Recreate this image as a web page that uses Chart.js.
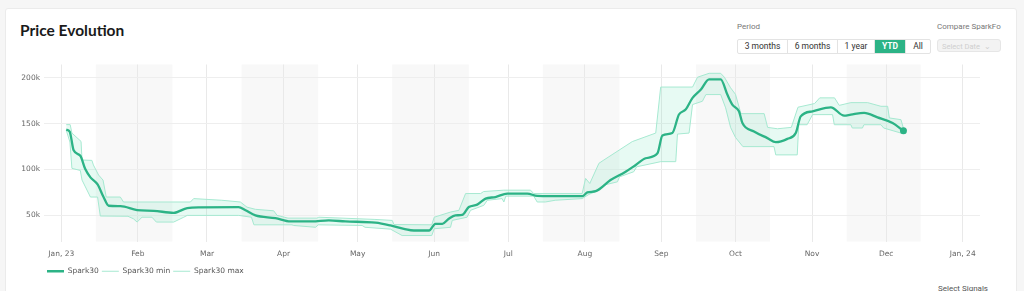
<!DOCTYPE html>
<html>
<head>
<meta charset="utf-8">
<script src="https://cdn.jsdelivr.net/npm/chart.js@4.4.1/dist/chart.umd.min.js"></script>
<style>
  body { margin: 0; width: 1024px; height: 291px; overflow: hidden; background: #f6f6f6; font-family: 'Roboto', sans-serif; }
  .card { position: absolute; left: 5px; top: 8px; width: 1010px; height: 300px; background: #fff; border: 1px solid #ebebeb; border-radius: 3px; }
  .title { position: absolute; left: 20px; top: 21px; font: 700 15.5px 'Lato', sans-serif; color: #1a1a1a; }
  .lbl { position: absolute; top: 22px; font-size: 8px; color: #777; }
  .period { position: absolute; left: 737px; top: 39px; height: 13px; display: flex; border: 1px solid #e3e3e3; border-radius: 2px; }
  .period span { font-size: 8.5px; color: #333; line-height: 13px; border-right: 1px solid #e3e3e3; text-align: center; }
  .period span:last-child { border-right: none; }
  .period .on { background: #2cb386; color: #fff; font-weight: 700; }
  .date { position: absolute; left: 937px; top: 39px; width: 64px; height: 13px; background: #f3f3f3; border: 1px solid #e6e6e6; border-radius: 3px; font-size: 7.5px; line-height: 13px; color: #cfcfcf; padding-left: 4px; box-sizing: border-box; }
  .signals { position: absolute; left: 938px; top: 284px; font-size: 8px; color: #555; }
  .wrap { position: absolute; left: 0; top: 56px; width: 1000px; height: 235px; }
</style>
</head>
<body>
<div class="card"></div>
<div class="title">Price Evolution</div>
<div class="lbl" style="left:737px">Period</div>
<div class="period">
  <span style="width:49px">3 months</span>
  <span style="width:49px">6 months</span>
  <span style="width:36px">1 year</span>
  <span class="on" style="width:30px">YTD</span>
  <span style="width:24px">All</span>
</div>
<div class="lbl" style="left:937px">Compare SparkFo</div>
<div class="date">Select Date &nbsp;&#8964;</div>
<div class="signals">Select Signals</div>
<div class="wrap"><canvas id="priceChart"></canvas></div>

<script>
// x values are days since Jan 1 2023, y values are in thousands
const monthDays = [0, 31, 59, 90, 120, 151, 181, 212, 243, 273, 304, 334, 365];
const monthLabels = ['Jan, 23', 'Feb', 'Mar', 'Apr', 'May', 'Jun', 'Jul', 'Aug', 'Sep', 'Oct', 'Nov', 'Dec', 'Jan, 24'];
const yTickValues = [50, 100, 150, 200];
const shadeRanges = [[14, 45], [73, 104], [134, 165], [195, 226], [257, 287], [318, 348]];

const sparkDays = [
    2, 3.4, 5, 7.7, 9.7, 11.8, 14.7, 17.1, 19.2, 24,
    30.7, 37.4, 45.5, 51, 56.3, 71.8, 74.6, 78.6, 86.7, 92.8,
    101.5, 108.3, 115, 127.2, 133.3, 138.7, 142.8, 148.9, 151.5, 154.3,
    156.9, 159.6, 162.3, 165, 168.4, 171.8, 175.8, 180.6, 188.7, 192.7,
    198, 211, 213, 216.4, 222.4, 228.5, 232.6, 236.6, 241.4, 243.4,
    247.4, 250.1, 252.8, 255.6, 259, 262.3, 267, 269.7, 271.7, 274.4,
    275.8, 280.5, 285.9, 289.3, 294, 297.4, 299.4, 304.2, 311.6, 317,
    319.7, 325.1, 330.5, 336.6, 341
];
const sparkValues = [
    143.5, 141.5, 121, 115, 100.5, 91.5, 83.7, 70, 60.5, 60,
    55.8, 55, 52.8, 58, 58.8, 59, 55.5, 50, 47, 43.4,
    43.4, 44.5, 43.4, 42, 39, 35.4, 33.5, 33.5, 40.8, 40.8,
    46.3, 50, 50.5, 59.1, 61.7, 68.3, 70, 73.8, 73.8, 71.2,
    71, 71, 75, 76.4, 88.5, 97.6, 105, 112.3, 117.8, 137.2,
    139.8, 160, 165.4, 178.2, 187.4, 198.4, 198.4, 181.8, 170.9, 163.5,
    150.8, 141.5, 134.3, 129.9, 133.5, 139.8, 158, 163.5, 167.9, 158.8,
    159.9, 161.8, 156.9, 150.8, 142.3
];

const minDays = [
    2, 3.5, 4.3, 7.7, 8.4, 11.8, 14.7, 15.8, 27, 29.2,
    30.7, 32.7, 36.7, 38.5, 45.5, 49.6, 51, 71.8, 77, 78,
    93.4, 94, 103, 104, 121.8, 123, 133.3, 138, 150, 151,
    157.6, 158.3, 164.3, 165.7, 171.1, 172.5, 178.5, 179.2, 180, 191.3,
    192.7, 196, 200, 210.9, 213.6, 217.7, 219.7, 225.2, 226, 231.8,
    233, 242.7, 248.8, 249.5, 254.2, 255.6, 259.6, 261, 267, 269,
    271, 273, 276, 288.6, 289.3, 298, 298.6, 302, 304.2, 312.3,
    313, 319.7, 320.3, 324.4, 325, 331.9, 333, 340, 341
];
const minValues = [
    143, 130, 101.3, 99, 88.5, 70, 70, 49.3, 49, 46.3,
    42.7, 48, 48, 42.7, 42.7, 48, 50, 50, 48, 39.7,
    39.7, 39, 37, 39.7, 39, 37, 35, 28, 28, 35.4,
    37, 44.5, 48, 55.5, 61, 66.5, 68.3, 64.6, 71, 71,
    64.6, 64.6, 66.5, 68.3, 72.8, 77.5, 83, 86.6, 92, 97.6,
    103, 108.6, 108.6, 138.7, 139.8, 170.9, 174.5, 181.8, 181.8, 167.3,
    146, 135, 125, 125, 116, 116, 148.9, 148.9, 159.9, 159.9,
    148.9, 148.9, 145.3, 145.3, 148.9, 148.9, 145.3, 139.8, 139.8
];

const maxDays = [
    2, 3.6, 4.3, 8, 8.4, 12.4, 13, 15.1, 16.9, 18.2,
    23.9, 25.2, 52.3, 53.6, 65, 72.5, 75.2, 78.6, 86, 87.4,
    91.8, 103.5, 104.3, 127, 134, 134.7, 150, 151, 157.6, 161,
    163.7, 169.8, 171, 179.2, 190, 191.3, 210.9, 212.3, 214, 217.7,
    219.7, 231.2, 240.7, 242.7, 255.6, 257.6, 262.3, 267, 268.5, 271,
    273, 275.2, 284.6, 286, 290, 295.6, 298.3, 305, 307.1, 313.1,
    315, 319.7, 326.5, 331.9, 334.6, 335.3, 340, 341
];
const maxValues = [
    149, 149, 139.8, 130.7, 110.4, 110, 105, 94, 88.5, 70,
    70, 64.6, 64.6, 68.3, 66.5, 64.6, 59, 56.6, 55, 50,
    47, 47, 48, 45.6, 44.5, 40, 39.7, 48, 53.6, 55.5,
    73.8, 73.8, 76, 77.5, 77.5, 73.8, 73.8, 90.3, 84.8, 106.8,
    110.4, 130.5, 139.8, 190, 190, 200.7, 205, 205, 200.7, 189.2,
    182, 161, 161, 146, 144.5, 146, 168, 172, 178.2, 178.2,
    170, 173, 173, 169, 169, 156.3, 154.4, 145
];

const MAIN_GREEN = '#2cb386';
const LIGHT_GREEN = '#a6e9d1';
const BAND_FILL = 'rgba(110, 225, 185, 0.17)';
const TICK_FONT = { family: 'DejaVu Sans', size: 7.5 };

const toPoints = (xs, ys) => xs.map((x, i) => ({ x: x, y: ys[i] }));

// light grey half-month bands behind the grid
const shadeBands = {
    id: 'shadeBands',
    beforeDraw(chart) {
        const { ctx, chartArea, scales } = chart;
        ctx.save();
        ctx.fillStyle = '#f8f8f8';
        shadeRanges.forEach(([a, b]) => {
            const x0 = scales.x.getPixelForValue(a);
            const x1 = scales.x.getPixelForValue(b);
            ctx.fillRect(x0, chartArea.top, x1 - x0, chartArea.bottom - chartArea.top);
        });
        ctx.restore();
    }
};

// legend sits under the plot, not at the canvas edge
const shiftLegend = {
    id: 'shiftLegend',
    afterLayout(chart) {
        chart.legend.left = 44;
    }
};

const lastIndex = sparkDays.length - 1;

new Chart(document.getElementById('priceChart'), {
    type: 'line',
    data: {
        datasets: [
            {
                label: 'Spark30',
                data: toPoints(sparkDays, sparkValues),
                borderColor: MAIN_GREEN,
                backgroundColor: MAIN_GREEN,
                borderWidth: 2.3,
                cubicInterpolationMode: 'monotone',
                pointRadius: ctx => ctx.dataIndex === lastIndex ? 3.5 : 0,
                pointBackgroundColor: MAIN_GREEN,
                pointBorderWidth: 0,
                fill: false
            },
            {
                label: 'Spark30 min',
                data: toPoints(minDays, minValues),
                borderColor: LIGHT_GREEN,
                backgroundColor: BAND_FILL,
                borderWidth: 1,
                pointRadius: 0,
                tension: 0,
                fill: false
            },
            {
                label: 'Spark30 max',
                data: toPoints(maxDays, maxValues),
                borderColor: LIGHT_GREEN,
                backgroundColor: BAND_FILL,
                borderWidth: 1,
                pointRadius: 0,
                tension: 0,
                fill: '-1'
            }
        ]
    },
    options: {
        responsive: true,
        maintainAspectRatio: false,
        animation: false,
        layout: { padding: { left: 0, right: 20, top: 8, bottom: 6 } },
        plugins: {
            tooltip: { enabled: false },
            legend: {
                position: 'bottom',
                align: 'start',
                labels: {
                    font: TICK_FONT,
                    color: '#555',
                    usePointStyle: true,
                    pointStyle: 'line',
                    pointStyleWidth: 17,
                    boxHeight: 7,
                    padding: 3,
                    generateLabels: chart => chart.data.datasets.map((ds, i) => ({
                        text: ds.label,
                        datasetIndex: i,
                        pointStyle: 'line',
                        strokeStyle: ds.borderColor,
                        fillStyle: ds.borderColor,
                        lineWidth: ds.borderWidth,
                        fontColor: '#555',
                        hidden: false
                    }))
                }
            }
        },
        scales: {
            x: {
                type: 'linear',
                min: -7,
                max: 372,
                afterBuildTicks: scale => { scale.ticks = monthDays.map(d => ({ value: d })); },
                afterFit: scale => { scale.height = 23; },
                ticks: {
                    font: TICK_FONT,
                    color: '#666',
                    padding: 8,
                    maxRotation: 0,
                    autoSkip: false,
                    callback: value => monthLabels[monthDays.indexOf(value)]
                },
                grid: { color: '#e9e9e9', drawTicks: false },
                border: { display: false }
            },
            y: {
                min: 21.5,
                max: 214.6,
                afterBuildTicks: scale => { scale.ticks = yTickValues.map(v => ({ value: v })); },
                afterFit: scale => { scale.width = 44; },
                ticks: {
                    font: TICK_FONT,
                    color: '#666',
                    padding: 4,
                    callback: value => value + 'k'
                },
                grid: { color: '#eeeeee', drawTicks: false },
                border: { display: false }
            }
        }
    },
    plugins: [shadeBands, shiftLegend]
});
</script>
</body>
</html>
